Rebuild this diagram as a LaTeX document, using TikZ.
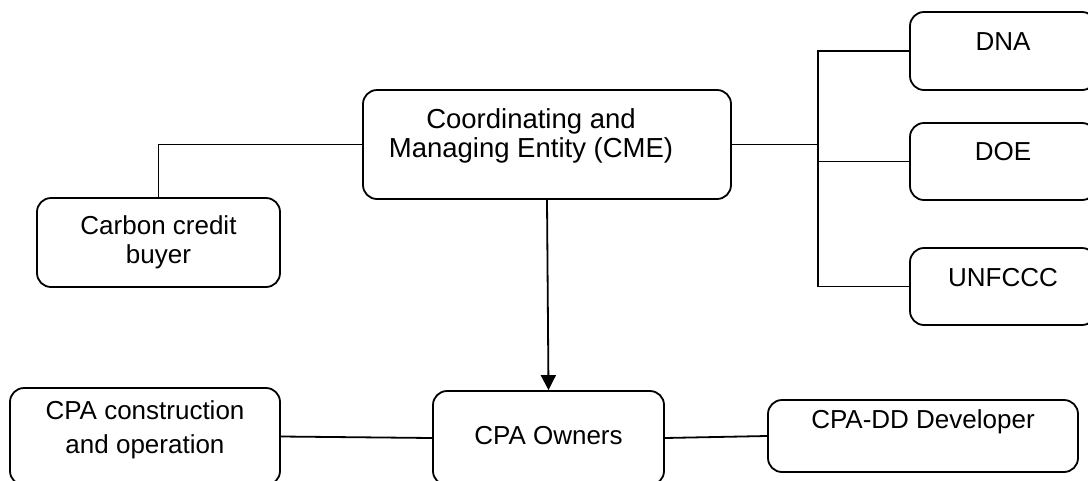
\documentclass[tikz,border=0pt]{standalone}
\usepackage{fontspec}
\setmainfont{Liberation Sans}
\usetikzlibrary{arrows.meta}
\tikzset{
  box/.style={draw, line width=1.8pt, rounded corners=14pt, inner sep=0pt},
  txt/.style={align=center, inner sep=0pt, font=\fontsize{26}{29}\selectfont},
  link/.style={line width=1.8pt}
}

\begin{document}
\begin{tikzpicture}[x=1pt, y=-1pt]
		%%%%% START %%%%%
		\useasboundingbox (0, 0) rectangle (1088, 480);
		
		\node[box, minimum width=368pt, minimum height=109pt] (cme) at (547, 144.5) {};
		\node[txt, font=\fontsize{27.5}{28.5}\selectfont] (cmetext) at (531, 136) {Coordinating and\\Managing Entity (CME)};
		
		\node[box, minimum width=243pt, minimum height=89pt] (buyer) at (158.5, 242.5) {};
		\node[txt] (buyertext) at (158.5, 242.5) {Carbon credit\\buyer};
		
		\node[box, minimum width=186pt, minimum height=78pt] (dna) at (1003, 51) {};
		\node[txt] (dnatext) at (1003, 42) {DNA};
		\node[box, minimum width=186pt, minimum height=77pt] (doe) at (1003, 161.5) {};
		\node[txt] (doetext) at (1003, 152) {DOE};
		\node[box, minimum width=186pt, minimum height=77pt] (unfccc) at (1003, 286.5) {};
		\node[txt] (unfccctext) at (1003, 278) {UNFCCC};
		
		\node[box, minimum width=231pt, minimum height=94pt] (owners) at (548.5, 438) {};
		\node[txt] (ownerstext) at (548.5, 436) {CPA Owners};
		\node[box, minimum width=270pt, minimum height=97pt] (constr) at (145, 436.5) {};
		\node[txt, font=\fontsize{26}{34}\selectfont] (constrtext) at (145, 430) {CPA construction\\and operation};
		\node[box, minimum width=310pt, minimum height=72pt] (dev) at (923, 436) {};
		\node[txt] (devtext) at (923, 422) {CPA-DD Developer};
		
		%%%%% LINKS %%%%%
		\coordinate (bus) at (818, 0);
		\draw[link] (buyer.north) |- (cme.west);
		\draw[link] (cme.east) -- (cme.east -| bus);
		\draw[link] (dna.west) -| (bus |- unfccc.west) -- (unfccc.west);
		\draw[link] (doe.west) -- (doe.west -| bus);
		\draw[link, -{Triangle[length=15pt, width=15pt]}] (cme.south) -- (owners.north);
		\draw[link] (constr.east) -- (owners.west);
		\draw[link] (owners.east) -- (dev.west);
		
		%%%%% END %%%%%
	\end{tikzpicture}
\end{document}
